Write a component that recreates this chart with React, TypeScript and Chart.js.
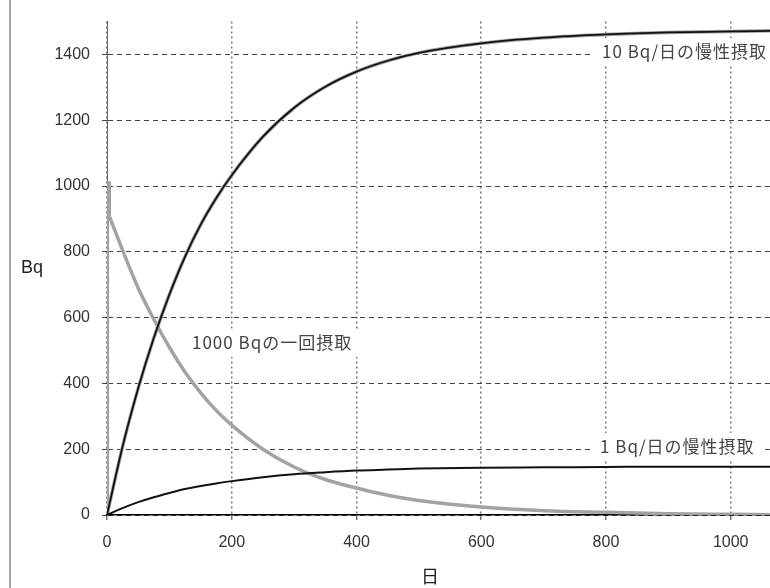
import React, { useEffect, useRef } from "react";
import { Chart, registerables } from "chart.js";

Chart.register(...registerables);

// ---- data ----
const chronicDays = [0, 25, 50, 75, 100, 125, 150, 175, 200, 250, 300, 350, 400, 450, 500, 600, 700, 800, 900, 1000, 1063];
const chronic10 = [0, 208, 385, 538, 670, 785, 882, 963, 1033, 1150, 1238, 1302, 1348, 1381, 1405, 1434, 1451, 1461, 1467, 1470, 1472];
const chronic1 = [0, 21, 39, 54, 67, 79, 88, 96, 103, 115, 124, 130, 135, 138, 141, 144, 145, 146, 147, 147, 147];

const singleDays = [4, 25, 50, 75, 100, 125, 150, 175, 200, 250, 300, 350, 400, 450, 500, 600, 700, 800, 900, 1000, 1063];
const single1000 = [907, 805, 690, 595, 510, 435, 372, 318, 273, 200, 146, 108, 82, 60, 44, 24, 13, 8, 4, 2, 1];

const jumpDays = [1, 1, 4, 4];
const jumpValues = [0, 1010, 1010, 907];

const xTicks = [0, 200, 400, 600, 800, 1000];
const yTicks = [0, 200, 400, 600, 800, 1000, 1200, 1400];

const labels = [
  { text: "10 Bq/日の慢性摂取", x: 602, y: 52 },
  { text: "1000 Bqの一回摂取", x: 192, y: 343 },
  { text: "1 Bq/日の慢性摂取", x: 600, y: 447 },
];

const toPoints = (xs: number[], ys: number[]) => xs.map((x, i) => ({ x, y: ys[i] }));

const LABEL_FONT = '17px "Noto Sans CJK JP", "Noto Sans", sans-serif';
const TICK_FONT = { family: '"Liberation Sans", Arial, sans-serif', size: 16 };

const decorPlugin = {
  id: "decor",
  beforeDatasetsDraw(chart: any) {
    const ctx = chart.ctx;
    ctx.save();
    ctx.font = LABEL_FONT;
    (ctx as any).letterSpacing = "1px";
    ctx.fillStyle = "#ffffff";
    for (const l of labels) {
      const w = ctx.measureText(l.text).width;
      ctx.fillRect(l.x - 10, l.y - 14, w + 18, 28);
    }
    ctx.restore();
  },
  afterDraw(chart: any) {
    const ctx = chart.ctx;
    ctx.save();
    // left frame line
    ctx.strokeStyle = "#8a8a8a";
    ctx.lineWidth = 1.5;
    ctx.beginPath();
    ctx.moveTo(10, 0);
    ctx.lineTo(10, 588);
    ctx.stroke();
    // annotation labels
    ctx.font = LABEL_FONT;
    (ctx as any).letterSpacing = "1px";
    ctx.fillStyle = "#444";
    ctx.textBaseline = "middle";
    ctx.textAlign = "left";
    for (const l of labels) ctx.fillText(l.text, l.x, l.y);
    (ctx as any).letterSpacing = "0px";
    // axis titles
    ctx.fillStyle = "#222";
    ctx.font = '18px "Liberation Sans", Arial, sans-serif';
    ctx.textAlign = "center";
    ctx.fillText("Bq", 32, 268);
    ctx.font = '18px "Noto Sans CJK JP", sans-serif';
    ctx.fillText("日", 430, 576);
    ctx.restore();
  },
};

export default function App() {
  const ref = useRef<HTMLCanvasElement | null>(null);
  useEffect(() => {
    if (!ref.current) return;
    const chart = new Chart(ref.current, {
      type: "line",
      data: {
        datasets: [
          {
            data: toPoints(chronicDays, chronic1),
            borderColor: "#111",
            borderWidth: 2,
            pointRadius: 0,
            cubicInterpolationMode: "monotone",
            order: 1,
          },
          {
            data: toPoints(chronicDays, chronic10),
            borderColor: "#111",
            borderWidth: 1.8,
            pointRadius: 0,
            cubicInterpolationMode: "monotone",
            order: 2,
          },
          {
            data: toPoints(chronicDays, chronic10),
            borderColor: "#a0a0a0",
            borderWidth: 3.5,
            pointRadius: 0,
            cubicInterpolationMode: "monotone",
            order: 3,
          },
          {
            data: toPoints(singleDays, single1000),
            borderColor: "#a3a3a3",
            borderWidth: 3.5,
            pointRadius: 0,
            cubicInterpolationMode: "monotone",
            order: 4,
          },
          {
            data: toPoints(jumpDays, jumpValues),
            borderColor: "#a3a3a3",
            borderWidth: 3,
            pointRadius: 0,
            tension: 0,
            order: 5,
          },
        ],
      },
      options: {
        responsive: false,
        animation: false,
        layout: { padding: { top: 11, right: 0, left: 0, bottom: 0 } },
        plugins: {
          legend: { display: false },
          tooltip: { enabled: false },
        },
        scales: {
          x: {
            type: "linear",
            min: 0,
            max: 1063,
            afterFit: (s: any) => {
              s.height = 73;
            },
            afterBuildTicks: (s: any) => {
              s.ticks = xTicks.map((v) => ({ value: v }));
            },
            ticks: {
              stepSize: 200,
              includeBounds: false,
              padding: 13,
              color: "#333",
              font: TICK_FONT,
              callback: (v: any) => String(v),
            },
            grid: {
              color: "#777",
              lineWidth: 1.5,
              tickLength: 5,
              tickColor: "#777",
              tickWidth: 1.5,
            },
            border: { color: "#000", width: 1.5, dash: [2, 3] },
          },
          y: {
            type: "linear",
            min: 0,
            max: 1500,
            afterFit: (s: any) => {
              s.width = 107;
            },
            afterBuildTicks: (s: any) => {
              s.ticks = yTicks.map((v) => ({ value: v }));
            },
            ticks: {
              stepSize: 200,
              includeBounds: false,
              padding: 12,
              color: "#333",
              font: TICK_FONT,
              callback: (v: any) => String(v),
            },
            grid: {
              color: "#444",
              lineWidth: 1,
              tickLength: 5,
              tickColor: "#444",
              tickWidth: 1,
            },
            border: { color: "#666", width: 1, dash: [5, 4] },
          },
        },
      },
      plugins: [decorPlugin],
    } as any);
    return () => chart.destroy();
  }, []);
  return (
    <div style={{ position: "absolute", left: 0, top: 0, width: 770, height: 588, background: "#fff" }}>
      <canvas ref={ref} width={770} height={588} style={{ width: 770, height: 588, display: "block" }} />
    </div>
  );
}
